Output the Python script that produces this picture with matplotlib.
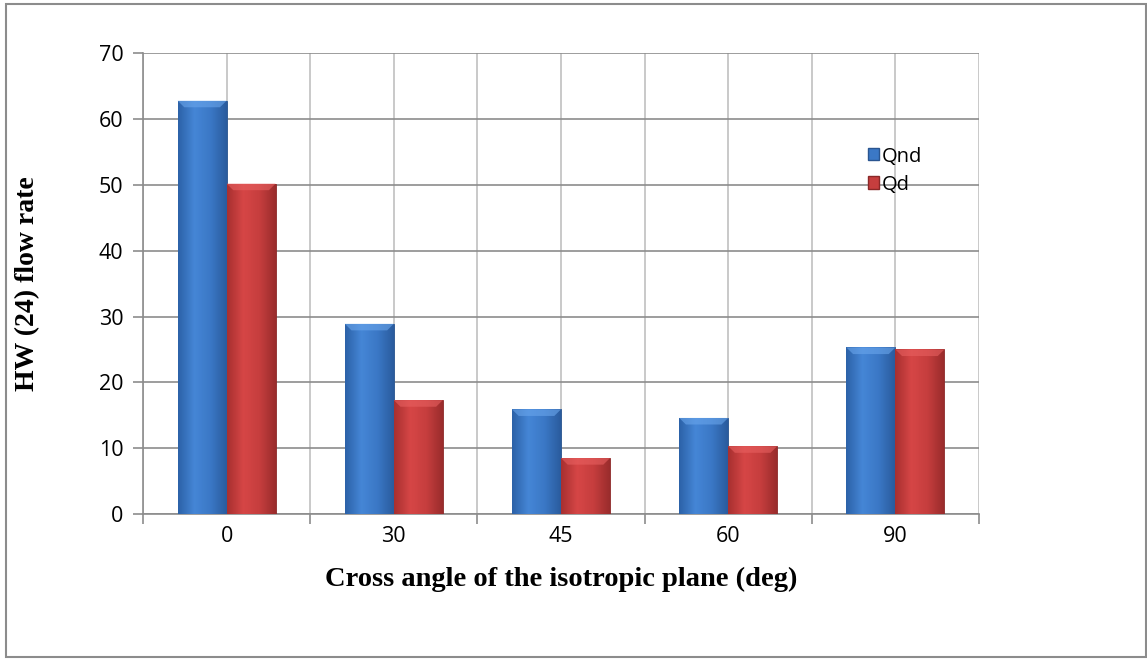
import numpy as np
import matplotlib.pyplot as plt
from matplotlib.patches import Patch, Rectangle, Polygon
from matplotlib.colors import LinearSegmentedColormap

# data
angles = ['0', '30', '45', '60', '90']
qnd = [62.8, 28.9, 15.9, 14.6, 25.3]
qd = [50.2, 17.3, 8.5, 10.3, 25.0]
series_names = ['Qnd', 'Qd']

blue_map = LinearSegmentedColormap.from_list('b', ['#2c62a8', '#4586d6', '#3b78c6', '#2a5c9e'])
red_map = LinearSegmentedColormap.from_list('r', ['#a83030', '#d64646', '#c63e3e', '#9a2c2c'])

fig = plt.figure(figsize=(11.47, 6.59), dpi=100)
ax = fig.add_axes([143/1147, 1-514/659, (979-143)/1147, (514-53.3)/659])

# outer frame of the chart
fig.patches.append(Rectangle((6/1147, 2/659), 1140/1147, 653/659, transform=fig.transFigure,
                             fill=False, edgecolor='#8c8c8c', linewidth=1.5))

x = np.arange(len(angles))
w = 0.293
grad = np.linspace(0, 1, 64).reshape(1, -1)

def shaded(bars, cmap, top_color):
    for b in bars:
        x0, y0 = b.get_x(), b.get_y()
        bw, bh = b.get_width(), b.get_height()
        im = ax.imshow(grad, cmap=cmap, aspect='auto', extent=[x0, x0 + bw, y0, y0 + bh],
                       zorder=3, interpolation='bicubic')
        im.set_clip_path(b)
        # lighter bevel at the top of each bar
        d = 0.04
        bev = Polygon([(x0, y0 + bh), (x0 + bw, y0 + bh), (x0 + bw - d, y0 + bh - 1.0),
                       (x0 + d, y0 + bh - 1.0)], closed=True, facecolor=top_color,
                      edgecolor='none', zorder=4, alpha=0.6)
        ax.add_patch(bev)

b1 = ax.bar(x - w/2, qnd, w, color='#3b78c6', edgecolor='#2a5590', linewidth=0.6, zorder=3)
b2 = ax.bar(x + w/2, qd, w, color='#c63e3e', edgecolor='#8a2828', linewidth=0.6, zorder=3)
shaded(b1, blue_map, '#6aa6ec')
shaded(b2, red_map, '#e86060')

ax.set_xlim(-0.5, len(angles) - 0.5)
ax.set_ylim(0, 70)
ax.set_yticks(np.arange(0, 71, 10))
ax.set_xticks(x)
ax.set_xticklabels(angles)
ax.set_xticks(np.arange(-0.5, len(angles)), minor=True)

ax.yaxis.grid(True, color='#8c8c8c', linewidth=1.2, zorder=0)
ax.xaxis.grid(True, which='both', color='#c0c0c0', linewidth=1.2, zorder=0)
ax.set_axisbelow(True)

for s in ['top', 'right']:
    ax.spines[s].set_visible(False)
ax.spines['left'].set_color('#8c8c8c')
ax.spines['bottom'].set_color('#8c8c8c')
ax.spines['left'].set_linewidth(1.2)
ax.spines['bottom'].set_linewidth(1.2)

ax.tick_params(axis='y', length=7, color='#8c8c8c', width=1.2, labelsize=15.5, pad=7)
ax.tick_params(axis='x', which='major', length=0, labelsize=15.5, pad=9)
ax.tick_params(axis='x', which='minor', length=7, color='#8c8c8c', width=1.2)
for t in ax.get_xticklabels() + ax.get_yticklabels():
    t.set_fontfamily('Open Sans')

ax.set_xlabel('Cross angle of the isotropic plane (deg)', fontsize=20.5, fontweight='bold',
              fontfamily='Liberation Serif', labelpad=14)
ax.set_ylabel('HW (24) flow rate', fontsize=20, fontweight='bold',
              fontfamily='Liberation Serif', labelpad=42)

handles = [Patch(facecolor='#3b78c6', edgecolor='#2a5590'),
           Patch(facecolor='#c63e3e', edgecolor='#8a2828')]
ax.legend(handles, series_names, loc='upper left', bbox_to_anchor=(0.845, 0.837), frameon=False,
          handlelength=0.55, handleheight=0.55, handletextpad=0.15, labelspacing=0.4,
          prop={'family': 'Open Sans', 'size': 14.5})

plt.savefig('out.png', dpi=100)
